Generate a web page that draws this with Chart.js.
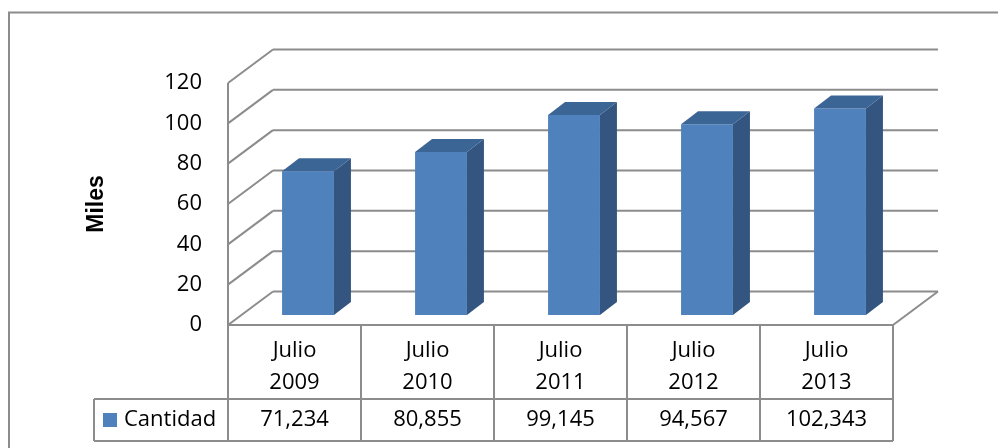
<!DOCTYPE html>
<html>
<head>
<meta charset="utf-8">
<script src="https://cdn.jsdelivr.net/npm/chart.js@4"></script>
<style>
  html, body { margin: 0; padding: 0; background: #fff; }
  #wrap { width: 998px; height: 448px; }
</style>
</head>
<body>
<div id="wrap"><canvas id="myChart" width="998" height="448"></canvas></div>
<script>
const months = [['Julio', '2009'], ['Julio', '2010'], ['Julio', '2011'], ['Julio', '2012'], ['Julio', '2013']];
const cantidad = [71.234, 80.855, 99.145, 94.567, 102.343];
const seriesName = 'Cantidad';
const axisTitle = 'Miles';

const FONT = '"Open Sans", Lato, sans-serif';
const LINE = '#8c8c8c';
const FRONT = '#4f81bd';
const SIDE = '#34557f';
const TOP = '#3b6595';

// depth of the walls and of the columns, in pixels
const WALL = { dx: 45, dy: -33.5 };
const BAR_SHIFT = { dx: 13.5, dy: -10 };
const BAR_DEPTH = { dx: 17, dy: -13 };

function fmt(v) {
  return v.toFixed(3).replace('.', ',');
}

function line(ctx, x1, y1, x2, y2) {
  ctx.beginPath();
  ctx.moveTo(x1, y1);
  ctx.lineTo(x2, y2);
  ctx.stroke();
}

const backdrop = {
  id: 'backdrop',
  beforeDraw(chart) {
    const { ctx, chartArea } = chart;
    const y = chart.scales.y;
    ctx.save();
    ctx.fillStyle = '#fff';
    ctx.fillRect(0, 0, chart.width, chart.height);
    ctx.strokeStyle = LINE;
    ctx.lineWidth = 2;
    // outer frame
    ctx.beginPath();
    ctx.moveTo(9, chart.height);
    ctx.lineTo(9, 12.5);
    ctx.lineTo(chart.width, 12.5);
    ctx.stroke();

    // back wall + side wall
    y.ticks.forEach((t) => {
      const py = y.getPixelForValue(t.value);
      line(ctx, chartArea.left, py, chartArea.left + WALL.dx, py + WALL.dy);
      line(ctx, chartArea.left + WALL.dx, py + WALL.dy, chartArea.right + WALL.dx, py + WALL.dy);
    });
    // floor right edge
    const base = y.getPixelForValue(0);
    line(ctx, chartArea.right, base, chartArea.right + WALL.dx, base + WALL.dy);
    // front vertical axis down into the table
    line(ctx, chartArea.left, chartArea.top, chartArea.left, 441);
    ctx.restore();
  }
};

const columns3d = {
  id: 'columns3d',
  beforeDatasetsDraw(chart) {
    chart.ctx.save();
    chart.ctx.translate(BAR_SHIFT.dx, BAR_SHIFT.dy);
  },
  afterDatasetsDraw(chart) {
    const { ctx } = chart;
    chart.getDatasetMeta(0).data.forEach((bar) => {
      const { x, y, base, width } = bar.getProps(['x', 'y', 'base', 'width'], true);
      const l = x - width / 2;
      const r = x + width / 2;
      // side face
      ctx.fillStyle = SIDE;
      ctx.beginPath();
      ctx.moveTo(r, base);
      ctx.lineTo(r, y);
      ctx.lineTo(r + BAR_DEPTH.dx, y + BAR_DEPTH.dy);
      ctx.lineTo(r + BAR_DEPTH.dx, base + BAR_DEPTH.dy);
      ctx.closePath();
      ctx.fill();
      // top face
      ctx.fillStyle = TOP;
      ctx.beginPath();
      ctx.moveTo(l, y);
      ctx.lineTo(r, y);
      ctx.lineTo(r + BAR_DEPTH.dx, y + BAR_DEPTH.dy);
      ctx.lineTo(l + BAR_DEPTH.dx, y + BAR_DEPTH.dy);
      ctx.closePath();
      ctx.fill();
    });
    ctx.restore();
  }
};

const dataTable = {
  id: 'dataTable',
  afterDraw(chart) {
    const { ctx, chartArea } = chart;
    const x = chart.scales.x;
    const step = (chartArea.right - chartArea.left) / months.length;
    const top = chartArea.bottom;
    const rowTop = 399;
    const rowBottom = 441;
    const legendLeft = 94;
    ctx.save();
    ctx.strokeStyle = LINE;
    ctx.lineWidth = 2;
    line(ctx, chartArea.left, top, chartArea.right, top);
    line(ctx, legendLeft, rowTop, chartArea.right, rowTop);
    line(ctx, legendLeft, rowBottom, chartArea.right, rowBottom);
    line(ctx, legendLeft, rowTop, legendLeft, rowBottom);
    for (let i = 1; i <= months.length; i++) {
      const px = chartArea.left + step * i;
      line(ctx, px, top, px, rowBottom);
    }

    ctx.font = '22px ' + FONT;
    ctx.fillStyle = '#000';
    ctx.textBaseline = 'middle';
    ctx.textAlign = 'center';
    const midY = (rowTop + rowBottom) / 2;
    cantidad.forEach((v, i) => {
      ctx.fillText(fmt(v), x.getPixelForValue(i), midY);
    });

    // legend key
    ctx.fillStyle = FRONT;
    ctx.fillRect(103, midY - 7, 14, 14);
    ctx.fillStyle = '#000';
    ctx.textAlign = 'left';
    ctx.fillText(seriesName, 124, midY);
    ctx.restore();
  }
};

const chart = new Chart(document.getElementById('myChart'), {
  type: 'bar',
  data: {
    labels: months,
    datasets: [{
      label: seriesName,
      data: cantidad,
      backgroundColor: FRONT,
      borderWidth: 0,
      barPercentage: 0.39,
      categoryPercentage: 1,
      clip: false
    }]
  },
  options: {
    responsive: false,
    animation: false,
    events: [],
    layout: { padding: { top: 83, left: 79, right: 105, bottom: 0 } },
    plugins: {
      legend: { display: false },
      tooltip: { enabled: false }
    },
    scales: {
      x: {
        offset: true,
        grid: { display: false, drawTicks: false },
        border: { display: false },
        ticks: {
          color: '#000',
          padding: 10,
          maxRotation: 0,
          autoSkip: false,
          font: { family: FONT, size: 22, lineHeight: 32 / 22 }
        },
        afterFit(scale) { scale.height = 123; }
      },
      y: {
        min: 0,
        max: 120,
        grid: { display: false, drawTicks: false },
        border: { display: false },
        ticks: {
          stepSize: 20,
          color: '#000',
          padding: 26,
          font: { family: FONT, size: 22 }
        },
        title: {
          display: true,
          text: axisTitle,
          color: '#000',
          font: { family: '"Liberation Sans", Arial, sans-serif', size: 23, weight: 'bold' }
        },
        afterFit(scale) { scale.width = 149; }
      }
    }
  },
  plugins: [backdrop, columns3d, dataTable]
});
</script>
</body>
</html>
